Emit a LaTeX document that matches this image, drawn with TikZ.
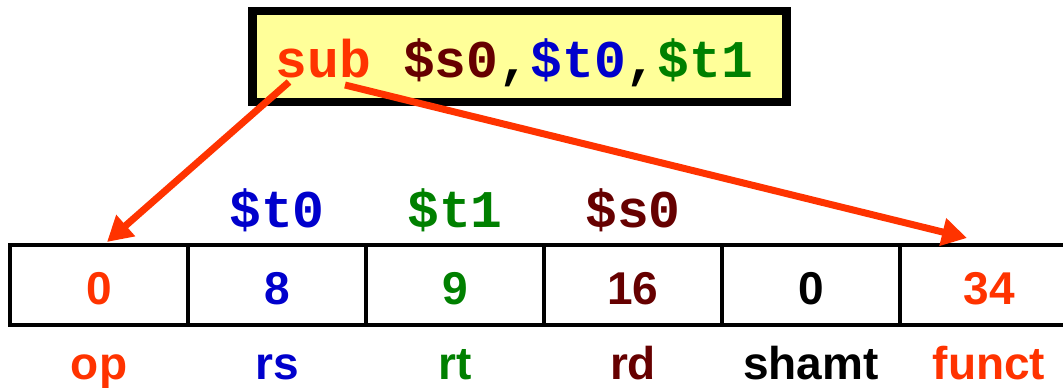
\documentclass[tikz,border=0pt]{standalone}
\usepackage{fontspec}
\setmainfont{Liberation Sans}
\setmonofont{Liberation Mono}
\usetikzlibrary{arrows.meta}

\definecolor{opred}{HTML}{FF3300}
\definecolor{rsblue}{HTML}{0000CC}
\definecolor{rtgreen}{HTML}{008000}
\definecolor{rdbrown}{HTML}{660000}
\definecolor{instrfill}{HTML}{FFFF99}

\begin{document}
\begin{tikzpicture}[x=1pt,y=-1pt,
    instr/.style={draw, line width=8.5pt, fill=instrfill, minimum width=534pt, minimum height=91pt, inner sep=0pt},
    field/.style={draw, line width=4pt, minimum width=178pt, minimum height=80pt, inner sep=0pt,
        text height=39pt, text depth=0pt, font=\fontsize{46}{50}\selectfont\bfseries},
    reg/.style={anchor=base, font=\fontsize{53}{60}\selectfont\ttfamily\bfseries},
    fieldname/.style={anchor=base, font=\fontsize{46}{50}\selectfont\bfseries},
    ptr/.style={opred, line width=7pt, -{Triangle[length=25pt,width=27pt]}}]
    \useasboundingbox (0,0) rectangle (1063,388);
    \clip (0,0) rectangle (1063,388);

    % Instruction
    \node[instr] (instrbox) at (519.5,56.5) {};
    \node[reg] (sub) at (514.5,77) {{\color{opred}sub} {\color{rdbrown}\$s0},{\color{rsblue}\$t0},{\color{rtgreen}\$t1}};

    % Fields
    \node[field, text=opred] (op) at (99,285) {0};
    \node[field, text=rsblue] (rs) at (277,285) {8};
    \node[field, text=rtgreen] (rt) at (455,285) {9};
    \node[field, text=rdbrown] (rd) at (633,285) {16};
    \node[field] (shamt) at (811,285) {0};
    \node[field, text=opred] (funct) at (989,285) {34};

    % Registers
    \node[reg, text=rsblue] (t0) at (277,227) {\$t0};
    \node[reg, text=rtgreen] (t1) at (455,227) {\$t1};
    \node[reg, text=rdbrown] (s0) at (633,227) {\$s0};

    % Field names
    \node[fieldname, text=opred] (opname) at (99,379) {op};
    \node[fieldname, text=rsblue] (rsname) at (277,379) {rs};
    \node[fieldname, text=rtgreen] (rtname) at (455,379) {rt};
    \node[fieldname, text=rdbrown] (rdname) at (633,379) {rd};
    \node[fieldname] (shamtname) at (811,379) {shamt};
    \node[fieldname, text=opred] (functname) at (989,379) {funct};

    % Arrows
    \coordinate (subL) at (289,82);
    \coordinate (subR) at (345,85);
    \coordinate (opTip) at ([xshift=8pt,yshift=1pt]op.north);
    \coordinate (functTip) at ([xshift=-22pt,yshift=5pt]funct.north);
    \draw[ptr] (subL) -- (opTip);
    \draw[ptr] (subR) -- (functTip);
\end{tikzpicture}
\end{document}
